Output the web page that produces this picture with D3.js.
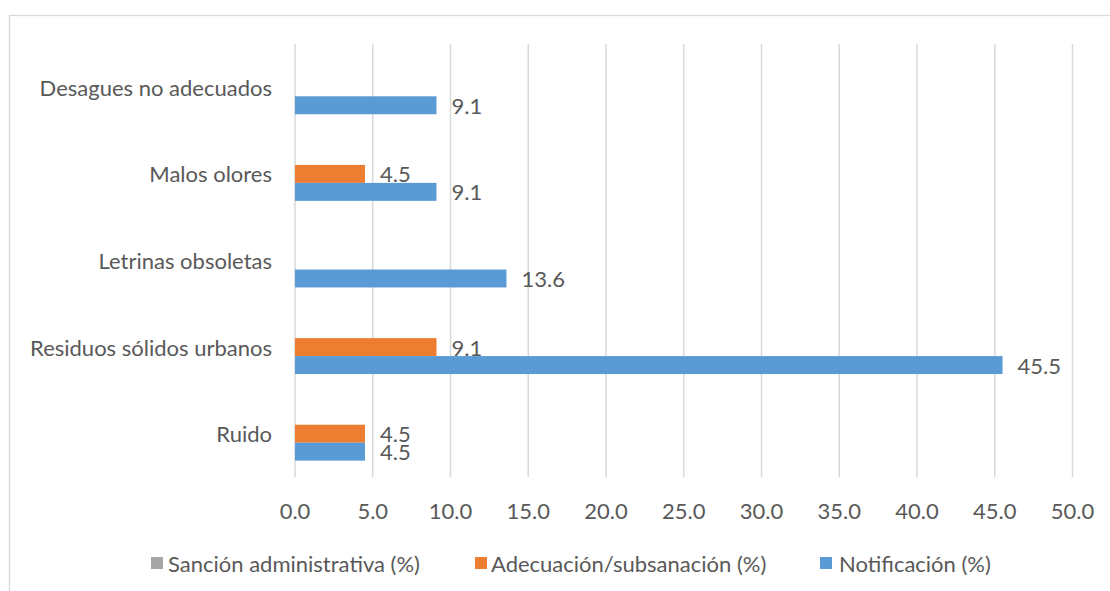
<!DOCTYPE html>
<html>
<head>
<meta charset="utf-8">
<script src="https://cdn.jsdelivr.net/npm/d3@7/dist/d3.min.js"></script>
<style>
  html, body { margin: 0; padding: 0; background: #ffffff; }
  svg { display: block; }
  text { font-family: Lato, "Open Sans", sans-serif; fill: #595959; }
</style>
</head>
<body>
<svg id="chart" width="1110" height="591"></svg>
<script>
// Categories, top to bottom as shown
const categories = ["Desagues no adecuados", "Malos olores", "Letrinas obsoletas", "Residuos sólidos urbanos", "Ruido"];
const seriesNames = ["Sanción administrativa (%)", "Adecuación/subsanación (%)", "Notificación (%)"];
const seriesColors = ["#A5A5A5", "#ED7D31", "#5B9BD5"];
const sancion = [null, null, null, null, null];
const adecuacion = [null, 4.5, null, 9.1, 4.5];
const notificacion = [9.1, 9.1, 13.6, 45.5, 4.5];
const xTicks = [0, 5, 10, 15, 20, 25, 30, 35, 40, 45, 50];

const seriesValues = [sancion, adecuacion, notificacion];

const svg = d3.select("#chart");
const W = 1110, H = 591;
const FS = "22px";

// outer chart frame
svg.append("rect")
  .attr("x", 9.5).attr("y", 15.5)
  .attr("width", W + 20).attr("height", H + 20)
  .attr("fill", "none").attr("stroke", "#d9d9d9").attr("stroke-width", 1.3);

const plot = { left: 295, right: 1072.5, top: 44, bottom: 477 };

const x = d3.scaleLinear().domain([0, 50]).range([plot.left, plot.right]);
const y = d3.scaleBand().domain(categories).range([plot.top, plot.bottom]).padding(0);

const gapWidth = 1.82;
const barH = y.bandwidth() / (seriesNames.length + gapWidth);
const groupOffset = (y.bandwidth() - barH * seriesNames.length) / 2;
const yInner = d3.scaleBand().domain(d3.range(seriesNames.length))
  .range([groupOffset, groupOffset + barH * seriesNames.length]).padding(0);

// gridlines
svg.append("g").selectAll("line").data(xTicks).join("line")
  .attr("x1", d => x(d)).attr("x2", d => x(d))
  .attr("y1", plot.top).attr("y2", plot.bottom)
  .attr("stroke", "#d9d9d9").attr("stroke-width", 1.5);

// x tick labels
svg.append("g").selectAll("text").data(xTicks).join("text")
  .attr("x", d => x(d)).attr("y", 510)
  .attr("text-anchor", "middle").attr("dominant-baseline", "central")
  .style("font-size", FS)
  .text(d => d3.format(".1f")(d));

// category labels
svg.append("g").selectAll("text").data(categories).join("text")
  .attr("x", 272).attr("y", d => y(d) + y.bandwidth() / 2)
  .attr("text-anchor", "end").attr("dominant-baseline", "central")
  .style("font-size", FS)
  .text(d => d);

// bars
seriesValues.forEach((vals, si) => {
  const data = categories.map((c, i) => ({ c, v: vals[i] })).filter(d => d.v != null);
  const g = svg.append("g");
  g.selectAll("rect").data(data).join("rect")
    .attr("x", x(0))
    .attr("y", d => y(d.c) + yInner(si))
    .attr("width", d => x(d.v) - x(0))
    .attr("height", yInner.bandwidth())
    .attr("fill", seriesColors[si]);
  g.selectAll("text").data(data).join("text")
    .attr("x", d => x(d.v) + 15)
    .attr("y", d => y(d.c) + yInner(si) + yInner.bandwidth() / 2)
    .attr("dominant-baseline", "central")
    .style("font-size", FS)
    .text(d => d3.format(".1f")(d.v));
});

// legend
const legendItems = [
  { sq: 151, tx: 168 },
  { sq: 475, tx: 491 },
  { sq: 820, tx: 839 }
];
const lg = svg.append("g");
seriesNames.forEach((name, i) => {
  lg.append("rect")
    .attr("x", legendItems[i].sq).attr("y", 557)
    .attr("width", 12).attr("height", 12)
    .attr("fill", seriesColors[i]);
  lg.append("text")
    .attr("x", legendItems[i].tx).attr("y", 563)
    .attr("dominant-baseline", "central")
    .style("font-size", FS)
    .text(name);
});
</script>
</body>
</html>
